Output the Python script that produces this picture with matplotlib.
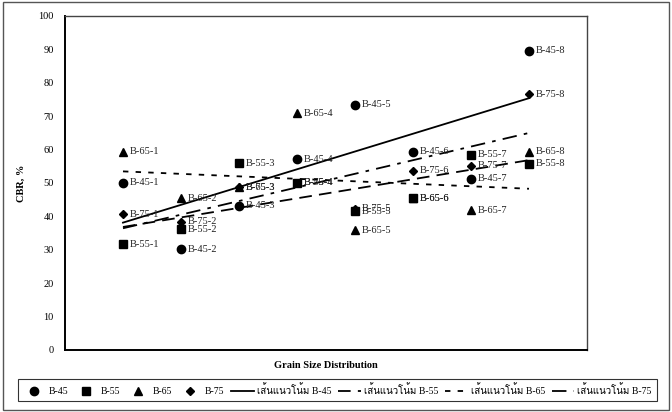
import numpy as np
import matplotlib
matplotlib.use("Agg")
import matplotlib.pyplot as plt
from matplotlib import font_manager
from matplotlib.ft2font import FT2Font
from matplotlib.patches import Rectangle

# CBR (%) per grain size distribution, sample positions 1..8
positions = [1, 2, 3, 4, 5, 6, 7, 8]
cbr_b45 = [50.0, 30.2, 43.2, 57.1, 73.4, 59.4, 51.2, 89.6]
cbr_b55 = [31.6, 36.1, 55.9, 50.1, 41.5, 45.4, 58.4, 55.7]
cbr_b65 = [59.4, 45.4, 48.7, 70.9, 35.9, 45.4, 41.9, 59.4]
cbr_b75 = [40.7, 38.4, 48.7, 50.1, 42.3, 53.7, 55.2, 76.6]

labels_b45 = ["B-45-%d" % i for i in positions]
labels_b55 = ["B-55-1", "B-55-2", "B-55-3", "B-55-4", "B-55-5", "B-65-6", "B-55-7", "B-55-8"]
labels_b65 = ["B-65-%d" % i for i in positions]
labels_b75 = ["B-75-%d" % i for i in positions]

series_names = ["B-45", "B-55", "B-65", "B-75"]
trend_prefix = "เส้นแนวโน้ม "


def thai_family():
    # first installed family that has Thai glyphs
    for f in font_manager.fontManager.ttflist:
        try:
            if 0x0E40 in FT2Font(f.fname).get_charmap():
                return f.name
        except Exception:
            pass
    return None


serif = "Liberation Serif"
thai = thai_family()
fam = [serif, thai] if thai else [serif, "DejaVu Sans"]
plt.rcParams["font.family"] = fam
fs = 7.5

fig = plt.figure(figsize=(6.72, 4.12), dpi=100)
fig.patches.append(Rectangle((0.004, 0.006), 0.992, 0.988, transform=fig.transFigure,
                             fill=False, edgecolor="#555555", linewidth=1.0))
ax = fig.add_axes([0.0967, 0.1505, 0.7768, 0.8107])

data = [cbr_b45, cbr_b55, cbr_b65, cbr_b75]
labels = [labels_b45, labels_b55, labels_b65, labels_b75]
markers = ["o", "s", "^", "D"]
msizes = [6.0, 6.0, 6.0, 4.5]
styles = ["-", (0, (7, 4)), (0, (3, 4)), (0, (8, 4, 2, 4))]

handles_pts = []
handles_lines = []
x = np.array(positions, dtype=float)
for name, y, lab, m, ms in zip(series_names, data, labels, markers, msizes):
    h, = ax.plot(x, y, linestyle="none", marker=m, markersize=ms, color="black",
                 label=name, zorder=3)
    handles_pts.append(h)
    for xi, yi, t in zip(x, y, lab):
        ax.annotate(t, (xi, yi), xytext=(5, 0), textcoords="offset points",
                    va="center", ha="left", fontsize=fs, color="#222222", zorder=4)

# linear trend line for each series
for name, y, ls in zip(series_names, data, styles):
    k, b = np.polyfit(x, y, 1)
    ln, = ax.plot(x, k * x + b, color="black", linewidth=1.3, linestyle=ls,
                  label=trend_prefix + name, zorder=2)
    handles_lines.append(ln)

ax.set_xlim(0, 9)
ax.set_ylim(0, 100)
ax.set_yticks(np.arange(0, 101, 10))
ax.set_xticks([])
ax.tick_params(axis="y", length=0, pad=8, labelsize=fs)
for side in ["left", "bottom"]:
    ax.spines[side].set_linewidth(1.4)
for side in ["top", "right"]:
    ax.spines[side].set_linewidth(1.0)
    ax.spines[side].set_color("#444444")

ax.set_ylabel("CBR, %", fontsize=fs, fontweight="bold", labelpad=9)
ax.set_xlabel("Grain Size Distribution", fontsize=fs, fontweight="bold", labelpad=8)

all_handles = handles_pts + handles_lines
leg = fig.legend(all_handles, [h.get_label() for h in all_handles],
                 loc="center", bbox_to_anchor=(0.502, 0.053), ncol=8,
                 fontsize=7.0, frameon=True, fancybox=False, handlelength=2.3,
                 handletextpad=0.3, columnspacing=0.75, borderpad=0.55,
                 borderaxespad=0)
leg.get_frame().set_edgecolor("black")
leg.get_frame().set_linewidth(0.8)

fig.savefig("out.png", dpi=100)
